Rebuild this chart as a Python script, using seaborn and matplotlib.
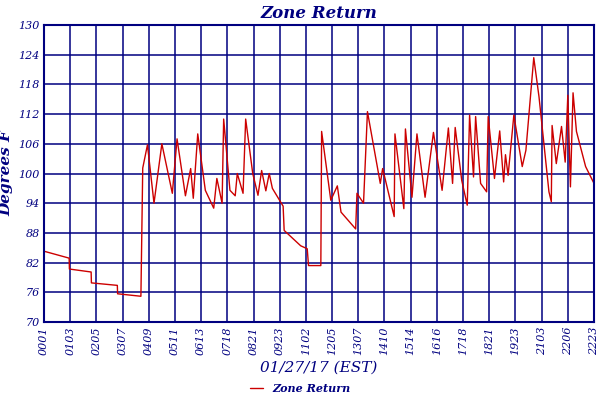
import matplotlib
matplotlib.use("Agg")
import matplotlib.pyplot as plt
import seaborn as sns
import pandas as pd

tick_labels = ["0001", "0103", "0205", "0307", "0409", "0511", "0613", "0718", "0821", "0923", "1102",
               "1205", "1307", "1410", "1514", "1616", "1718", "1821", "1923", "2103", "2206", "2223"]
y_ticks = [70, 76, 82, 88, 94, 100, 106, 112, 118, 124, 130]

# time position in tick units, temperature in deg F
pos = [0.0, 0.96, 0.97, 1.8, 1.81, 2.8, 2.81, 3.7, 3.77, 3.95, 4.2, 4.5, 4.9, 5.08, 5.4, 5.6, 5.7,
       5.87, 6.16, 6.48, 6.6, 6.8, 6.86, 7.1, 7.3, 7.38, 7.6, 7.7, 7.97, 8.17, 8.31, 8.47, 8.6, 8.72,
       9.13, 9.17, 9.8, 10.05, 10.1, 10.57, 10.6, 10.95, 11.2, 11.34, 11.9, 11.95, 12.2, 12.35, 12.84,
       12.93, 13.37, 13.4, 13.74, 13.8, 14.05, 14.24, 14.55, 14.87, 15.2, 15.44, 15.6, 15.7, 15.95,
       16.16, 16.25, 16.4, 16.48, 16.67, 16.9, 16.96, 17.2, 17.4, 17.55, 17.62, 17.72, 17.94, 18.26,
       18.4, 18.7, 18.9, 19.28, 19.37, 19.4, 19.56, 19.76, 19.9, 20.0, 20.1, 20.2, 20.33, 20.68, 21.0]
temp = [84.3, 82.9, 80.7, 80.1, 77.9, 77.4, 75.7, 75.2, 101.1, 105.8, 94.0, 106.0, 96.0, 107.0, 95.5,
        101.0, 95.0, 108.0, 96.6, 93.0, 99.0, 94.0, 111.0, 96.6, 95.5, 100.0, 96.0, 111.0, 100.0, 95.6,
        100.6, 96.5, 100.0, 97.0, 93.4, 88.5, 85.4, 84.8, 81.4, 81.4, 108.5, 94.6, 97.5, 92.2, 88.8,
        96.0, 94.0, 112.5, 98.0, 101.0, 91.3, 108.0, 92.9, 109.0, 95.2, 108.0, 95.2, 108.3, 96.6, 109.2,
        98.0, 109.3, 98.6, 93.6, 111.8, 99.3, 111.5, 98.0, 96.3, 111.5, 99.0, 108.6, 98.3, 103.8, 99.6,
        111.8, 101.4, 104.7, 123.4, 115.5, 96.3, 94.3, 109.7, 102.0, 109.5, 102.3, 115.8, 97.3, 116.3,
        108.5, 101.4, 98.0]

df = pd.DataFrame({"pos": pos, "temp": temp})
navy = "#000080"

sns.set_style("white")
plt.rcParams["font.family"] = ["DejaVu Serif"]

fig = plt.figure(figsize=(6, 4), dpi=100)
ax = fig.add_axes([44 / 600, 78 / 400, 550 / 600, 297 / 400])
sns.lineplot(data=df, x="pos", y="temp", color="#cc0000", linewidth=1.0, ax=ax,
             label="Zone Return", legend=False)

ax.set_xlim(0, 21)
ax.set_ylim(70, 130)
ax.set_xticks(range(len(tick_labels)))
ax.set_xticklabels(tick_labels, rotation=90, fontsize=8, style="italic", color=navy)
ax.set_yticks(y_ticks)
ax.set_yticklabels(y_ticks, fontsize=8, style="italic", color=navy)
ax.grid(True, color=navy, linewidth=1.1)
ax.tick_params(length=0, pad=3)
for s in ax.spines.values():
    s.set_color(navy)
    s.set_linewidth(1.5)

ax.set_xlabel("01/27/17 (EST)", fontsize=11, style="italic", color=navy, labelpad=4)
ax.set_ylabel("Degrees F", fontsize=11, style="italic", weight="bold", color=navy, labelpad=4)
ax.set_title("Zone Return", fontsize=12, style="italic", weight="bold", color=navy, pad=5)

leg = fig.legend(loc="lower center", bbox_to_anchor=(0.5, -0.01), frameon=False, fontsize=8,
                 handlelength=1.2)
for t in leg.get_texts():
    t.set_color(navy)
    t.set_style("italic")
    t.set_weight("bold")

fig.savefig("out.png", dpi=100)
